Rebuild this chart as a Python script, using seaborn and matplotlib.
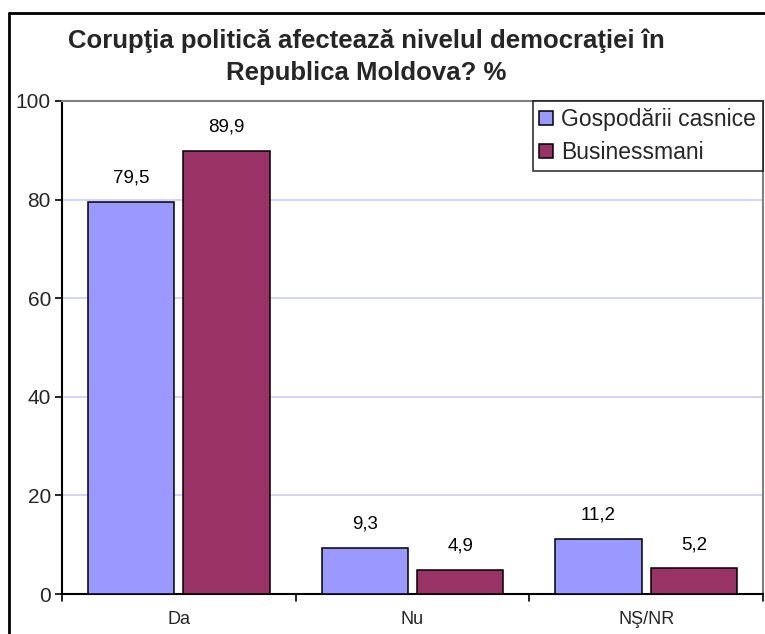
import matplotlib
matplotlib.use("Agg")
import matplotlib.pyplot as plt
from matplotlib.lines import Line2D
import seaborn as sns
import pandas as pd

categories = ["Da", "Nu", "NŞ/NR"]
gospodarii = [79.5, 9.3, 11.2]
businessmani = [89.9, 4.9, 5.2]
series_names = ["Gospodării casnice", "Businessmani"]
yticks = [0, 20, 40, 60, 80, 100]

df = pd.DataFrame({
    "cat": categories * 2,
    "val": gospodarii + businessmani,
    "grup": [series_names[0]] * 3 + [series_names[1]] * 3,
})

sns.set_theme(style="white")
plt.rcParams["font.family"] = ["Liberation Sans", "DejaVu Sans"]

fig = plt.figure(figsize=(7.65, 6.34), dpi=100)
ax = fig.add_axes([62 / 765, 1 - 594 / 634, (763 - 62) / 765, (594 - 101) / 634])

palette = {series_names[0]: "#9999FF", series_names[1]: "#993366"}
sns.barplot(data=df, x="cat", y="val", hue="grup", palette=palette,
            order=categories, hue_order=series_names,
            width=0.815, gap=0.095, edgecolor="black", linewidth=1.1,
            saturation=1, ax=ax, legend=True, zorder=3)

# value labels above bars
for cont in ax.containers:
    ax.bar_label(cont, labels=[f"{v:.1f}".replace(".", ",") for v in cont.datavalues],
                 padding=11, fontsize=13.5, color="black")

ax.set_ylim(0, 100)
ax.set_xlim(-0.5, 2.5)
ax.set_yticks(yticks)
ax.set_yticklabels([str(t) for t in yticks], fontsize=15)
ax.yaxis.grid(True, color="#CCCCFF", linewidth=1.2, zorder=0)
ax.set_axisbelow(True)

ax.set_xticks([0, 1, 2])
ax.set_xticklabels(categories, fontsize=13)
ax.tick_params(axis="x", length=0, pad=12)
ax.tick_params(axis="y", left=True, length=5, width=1.2, color="black", pad=3)
# category separator ticks
for xb in [-0.5, 0.5, 1.5, 2.5]:
    ax.plot([xb, xb], [0, -1.4], color="black", lw=1.2, clip_on=False, zorder=5)

ax.set_xlabel("")
ax.set_ylabel("")
for side in ["left", "bottom"]:
    ax.spines[side].set_color("black")
    ax.spines[side].set_linewidth(1.5)
for side in ["top", "right"]:
    ax.spines[side].set_color("#808080")
    ax.spines[side].set_linewidth(1.5)

leg = ax.legend(loc="upper right", bbox_to_anchor=(1.0, 1.0), fontsize=16.5,
                frameon=True, fancybox=False, edgecolor="black",
                handlelength=0.6, handleheight=0.6, handletextpad=0.35,
                borderpad=0.3, labelspacing=0.45, borderaxespad=0.0)
leg.get_frame().set_linewidth(1.2)

fig.text(366 / 765, 1 - 57 / 634,
         "Corupţia politică afectează nivelul democraţiei în\nRepublica Moldova? %",
         ha="center", va="center", fontsize=18.5, fontweight="bold",
         linespacing=1.4)

# outer chart frame (left and top edges)
fx, fy = 8.5 / 765, 1 - 12.5 / 634
fig.add_artist(Line2D([fx, fx], [0, fy], transform=fig.transFigure,
                      color="black", lw=2))
fig.add_artist(Line2D([fx, 1.0], [fy, fy], transform=fig.transFigure,
                      color="black", lw=2))

fig.savefig("out.png", dpi=100)
